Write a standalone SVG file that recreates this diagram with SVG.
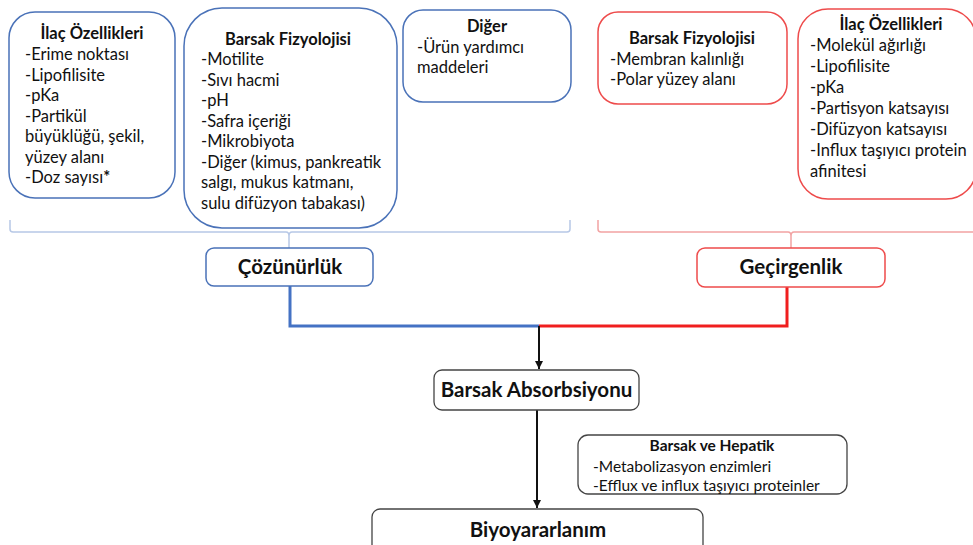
<svg xmlns="http://www.w3.org/2000/svg" width="973" height="545" viewBox="0 0 973 545">
<defs>
<style>
text{font-family:Lato,"Liberation Sans",sans-serif;fill:#111;}
.t{font-size:16.5px;}
.h{font-size:16.5px;font-weight:bold;text-anchor:middle;}
.big{font-size:20.5px;font-weight:bold;text-anchor:middle;}
.sm{font-size:15.5px;}
.smh{font-size:15.5px;font-weight:bold;text-anchor:middle;}
.blue{fill:#fff;stroke:#4A72B8;stroke-width:1.5;}
.red{fill:#fff;stroke:#EE4B4B;stroke-width:1.5;}
.dark{fill:#fff;stroke:#444;stroke-width:1.3;}
.brb{fill:none;stroke:#B7C8E6;stroke-width:1.5;}
.brr{fill:none;stroke:#F2A3A3;stroke-width:1.5;}
.cb{fill:none;stroke:#4472C4;stroke-width:3;}
.cr{fill:none;stroke:#F01E1E;stroke-width:3;}
.ck{fill:none;stroke:#111;stroke-width:2;}
</style>
<marker id="ah" viewBox="0 0 10 10" refX="10" refY="5" markerWidth="4" markerHeight="4" orient="auto" markerUnits="strokeWidth">
<path d="M0,0 L10,5 L0,10 z" fill="#111"/>
</marker>
</defs>
<rect width="973" height="545" fill="#fff"/>

<g id="connectors">
<path class="brb" d="M10,220 V229 Q10,232 13,232 H286 Q289,232 289,236 V248 M289,236 Q289,232 292,232 H567 Q570,232 570,229 V220"/>
<path class="brr" d="M598,220 V229 Q598,232 601,232 H788 Q791,232 791,236 V248 M791,236 Q791,232 794,232 H973"/>
<path class="cb" d="M290,286 V326 H539"/>
<path class="cr" d="M787,287 V326 H539"/>
<path class="ck" d="M539,326 V369" marker-end="url(#ah)"/>
<path class="ck" d="M537,410 V508" marker-end="url(#ah)"/>
</g>

<g id="ilac-blue">
<rect class="blue" x="9" y="12" width="166" height="186" rx="26"/>
<text class="h" x="92" y="39">İlaç Özellikleri</text>
<text class="t" x="25" y="60">-Erime noktası</text>
<text class="t" x="25" y="80.5">-Lipofilisite</text>
<text class="t" x="25" y="101">-pKa</text>
<text class="t" x="25" y="121.5">-Partikül</text>
<text class="t" x="25" y="142">büyüklüğü, şekil,</text>
<text class="t" x="25" y="162.5">yüzey alanı</text>
<text class="t" x="25" y="183">-Doz sayısı<tspan font-weight="bold">*</tspan></text>
</g>

<g id="barsak-fiz-blue">
<rect class="blue" x="184" y="8" width="213" height="220" rx="38"/>
<text class="h" x="288" y="45">Barsak Fizyolojisi</text>
<text class="t" x="201" y="65">-Motilite</text>
<text class="t" x="201" y="85.5">-Sıvı hacmi</text>
<text class="t" x="201" y="106">-pH</text>
<text class="t" x="201" y="126.5">-Safra içeriği</text>
<text class="t" x="201" y="147">-Mikrobiyota</text>
<text class="t" x="201" y="167.5">-Diğer (kimus, pankreatik</text>
<text class="t" x="201" y="188">salgı, mukus katmanı,</text>
<text class="t" x="201" y="208.5">sulu difüzyon tabakası)</text>
</g>

<g id="diger">
<rect class="blue" x="403" y="10" width="168" height="92" rx="20"/>
<text class="h" x="487" y="32">Diğer</text>
<text class="t" x="417" y="53">-Ürün yardımcı</text>
<text class="t" x="417" y="73">maddeleri</text>
</g>

<g id="barsak-fiz-red">
<rect class="red" x="598" y="12" width="189" height="92" rx="20"/>
<text class="h" x="692" y="44">Barsak Fizyolojisi</text>
<text class="t" x="610" y="65">-Membran kalınlığı</text>
<text class="t" x="610" y="85">-Polar yüzey alanı</text>
</g>

<g id="ilac-red">
<rect class="red" x="798" y="9" width="178" height="190" rx="30"/>
<text class="h" x="891" y="30">İlaç Özellikleri</text>
<text class="t" x="810" y="51">-Molekül ağırlığı</text>
<text class="t" x="810" y="72">-Lipofilisite</text>
<text class="t" x="810" y="93">-pKa</text>
<text class="t" x="810" y="114">-Partisyon katsayısı</text>
<text class="t" x="810" y="135">-Difüzyon katsayısı</text>
<text class="t" x="810" y="156">-Influx taşıyıcı protein</text>
<text class="t" x="810" y="177">afinitesi</text>
</g>

<g id="cozunurluk">
<rect class="blue" x="206" y="248" width="167" height="38" rx="8"/>
<text class="big" x="290" y="274">Çözünürlük</text>
</g>

<g id="gecirgenlik">
<rect class="red" x="697" y="248" width="188" height="39" rx="8"/>
<text class="big" x="791" y="274">Geçirgenlik</text>
</g>

<g id="absorbsiyon">
<rect class="dark" x="434" y="370" width="205" height="40" rx="8"/>
<text class="big" x="536.5" y="397">Barsak Absorbsiyonu</text>
</g>

<g id="hepatik">
<rect class="dark" x="578" y="435" width="269" height="59" rx="10"/>
<text class="smh" x="712" y="451">Barsak ve Hepatik</text>
<text class="sm" x="593" y="472">-Metabolizasyon enzimleri</text>
<text class="sm" x="593" y="491">-Efflux ve influx taşıyıcı proteinler</text>
</g>

<g id="biyoyararlanim">
<rect class="dark" x="372" y="509" width="331" height="50" rx="8"/>
<text class="big" x="538" y="537">Biyoyararlanım</text>
</g>
</svg>
